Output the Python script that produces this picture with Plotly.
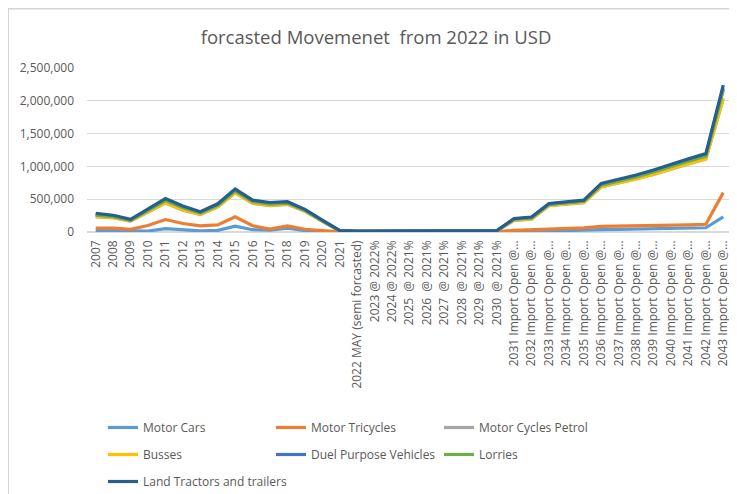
import plotly.graph_objects as go

categories = [str(y) for y in range(2007, 2022)] + [
    "2022 MAY (semi forcasted)", "2023 @ 2022%", "2024 @ 2022%",
    "2025  @ 2021%", "2026  @ 2021%", "2027  @ 2021%", "2028  @ 2021%",
    "2029  @ 2021%", "2030  @ 2021%",
] + [f"{y} Import Open @…" for y in range(2031, 2044)]

motor_cars = [20000, 18000, 5000, 15000, 50000, 28000, 18000, 25000, 90000, 35000,
              30000, 58000, 22000, 10000, 2000, 1000, 1000, 1000, 1500, 1500,
              1500, 1500, 1500, 1500, 5000, 8000, 15000, 18000, 22000, 35000,
              40000, 45000, 50000, 55000, 60000, 65000, 230000]
motor_tricycles = [60000, 60000, 40000, 100000, 190000, 130000, 95000, 108000, 232000, 95000,
                   45000, 93000, 42000, 20000, 2000, 2000, 2000, 2000, 2500, 2500,
                   2500, 2500, 2500, 2500, 25000, 32000, 50000, 55000, 62000, 85000,
                   88000, 92000, 98000, 102000, 108000, 118000, 600000]
motor_cycles_petrol = [232000, 217000, 167000, 307000, 442000, 332000, 267000, 382000, 597000, 437000,
                       402000, 422000, 317000, 162000, 16000, 9000, 9000, 10000, 15000, 15000,
                       15000, 15000, 15000, 15000, 177000, 197000, 402000, 427000, 447000, 687000,
                       742000, 807000, 877000, 962000, 1037000, 1112000, 2030000]
busses = [235000, 220000, 170000, 310000, 445000, 335000, 270000, 385000, 600000, 440000,
          405000, 425000, 320000, 165000, 18000, 10000, 10000, 11000, 16000, 16000,
          16000, 16000, 16000, 16000, 180000, 200000, 405000, 430000, 450000, 690000,
          745000, 810000, 880000, 965000, 1040000, 1115000, 2040000]
duel_purpose = [265000, 242000, 183000, 338000, 490000, 378000, 296000, 414000, 636000, 468000,
                433000, 448000, 335000, 173000, 20000, 11000, 11000, 12000, 18000, 18000,
                18000, 18000, 18000, 18000, 198000, 219000, 425000, 450000, 474000, 722000,
                783000, 850000, 925000, 1012000, 1092000, 1170000, 2190000]
lorries = [255000, 235000, 178000, 330000, 480000, 370000, 290000, 405000, 625000, 460000,
           425000, 440000, 330000, 170000, 20000, 11000, 11000, 12000, 18000, 18000,
           18000, 18000, 18000, 18000, 195000, 215000, 420000, 445000, 468000, 715000,
           775000, 840000, 915000, 1000000, 1080000, 1155000, 2160000]
land_tractors = [285000, 255000, 192000, 355000, 510000, 395000, 308000, 430000, 655000, 485000,
                 450000, 462000, 345000, 180000, 22000, 12000, 12000, 13000, 20000, 20000,
                 20000, 20000, 20000, 20000, 205000, 228000, 435000, 460000, 485000, 740000,
                 800000, 868000, 945000, 1035000, 1115000, 1195000, 2240000]

series = [
    ("Motor Cars", motor_cars, "#5B9BD5", "legend"),
    ("Motor Tricycles", motor_tricycles, "#ED7D31", "legend"),
    ("Motor Cycles Petrol", motor_cycles_petrol, "#A5A5A5", "legend"),
    ("Busses", busses, "#FFC000", "legend2"),
    ("Duel Purpose Vehicles", duel_purpose, "#4472C4", "legend2"),
    ("Lorries", lorries, "#70AD47", "legend2"),
    ("Land Tractors and trailers", land_tractors, "#255E91", "legend3"),
]

fig = go.Figure()
for name, vals, color, lg in series:
    fig.add_trace(go.Scatter(
        x=categories, y=vals, mode="lines", name=name,
        line=dict(color=color, width=3.2), legend=lg,
    ))

# The page adds an 8px body margin; the figure is sized to fill the rest.
OFF = 8
W, H = 737 - OFF, 494 - OFF
L, R, T = 87 - OFF, 5, 68 - OFF
B = H - (232 - OFF)
PW, PH = W - L - R, H - T - B


def px_x(page_x):
    return (page_x - OFF - L) / PW


def px_y(page_y):
    return (H - B - (page_y - OFF)) / PH


font = dict(family="Open Sans, Noto Sans, sans-serif", size=12, color="#595959")
leg_font = dict(family="Open Sans, sans-serif", size=12, color="#595959")
leg_common = dict(orientation="h", xanchor="left", yanchor="top",
                  entrywidthmode="pixels", font=leg_font,
                  bgcolor="rgba(0,0,0,0)", itemwidth=30, tracegroupgap=0)

fig.update_layout(
    width=W, height=H,
    margin=dict(l=L, r=R, t=T, b=B, pad=0, autoexpand=False),
    paper_bgcolor="white", plot_bgcolor="white",
    font=font,
    title=dict(text="forcasted Movemenet  from 2022 in USD", x=(376 - OFF) / W, xanchor="center",
               y=1 - (38 - OFF) / H, yanchor="middle",
               font=dict(family="Open Sans, sans-serif", size=18.5, color="#595959")),
    showlegend=True,
    legend=dict(x=px_x(103), y=px_y(413), entrywidth=123, **leg_common),
    legend2=dict(x=px_x(103), y=px_y(440), entrywidth=123, **leg_common),
    legend3=dict(x=px_x(103), y=px_y(467), entrywidth=240, **leg_common),
    xaxis=dict(type="category", range=[-0.5, 36.5], tickangle=-90, showgrid=False,
               showline=False, zeroline=False, ticks="", ticklabelstandoff=5,
               tickfont=dict(family="Open Sans, sans-serif", size=12, color="#595959")),
    yaxis=dict(range=[0, 2500000], dtick=500000, tickformat=",", showgrid=True,
               gridcolor="#D9D9D9", gridwidth=1, zeroline=True, zerolinecolor="#D9D9D9",
               showline=False, ticks="", ticklabelstandoff=12,
               tickfont=dict(family="Open Sans, sans-serif", size=12, color="#595959")),
    shapes=[dict(type="rect", xref="paper", yref="paper",
                 x0=px_x(8), x1=px_x(760), y0=px_y(505), y1=px_y(8.5),
                 line=dict(color="#D4D4D4", width=2), fillcolor="rgba(0,0,0,0)", layer="above")],
)

fig.write_html("out.html")
